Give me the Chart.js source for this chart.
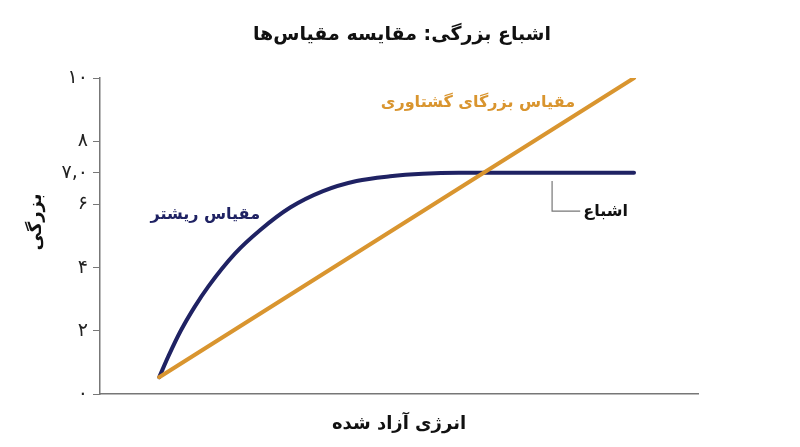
<!DOCTYPE html>
<html lang="fa">
<head>
<meta charset="utf-8">
<script src="https://cdn.jsdelivr.net/npm/chart.js@4.4.1/dist/chart.umd.min.js"></script>
<style>
  html, body { margin: 0; padding: 0; background: #fff; }
  #wrap { width: 800px; height: 447px; }
</style>
</head>
<body>
<div id="wrap"><canvas id="chart" width="800" height="447"></canvas></div>
<script>
// داده‌ها
const richterEnergy = [9.9, 11.5, 13.5, 15.8, 18.1, 22.6, 26.8, 31.8, 37.3, 42.9, 48.5, 54.0, 60.0, 89.3];
const richterMag = [0.53, 1.22, 2.0, 2.75, 3.40, 4.45, 5.19, 5.90, 6.42, 6.74, 6.89, 6.97, 7.0, 7.0];
const momentEnergy = [9.9, 89.3];
const momentMag = [0.53, 10];
const yTickValues = [0, 2, 4, 6, 7, 8, 10];
const yTickLabels = ['۰', '۲', '۴', '۶', '۷,۰', '۸', '۱۰'];

const chartTitle = 'اشباع بزرگی: مقایسه مقیاس‌ها';
const xTitle = 'انرژی آزاد شده';
const yTitle = 'بزرگی';
const richterName = 'مقیاس ریشتر';
const momentName = 'مقیاس بزرگای گشتاوری';
const saturationName = 'اشباع';

const NAVY = '#1f2263';
const ORANGE = '#d9952f';
const FONT = '"DejaVu Sans", sans-serif';

function toPoints(xs, ys) {
    return xs.map(function(x, i) { return {x: x, y: ys[i]}; });
}

// متن‌ها و برچسب‌های روی نمودار
const labelsPlugin = {
    id: 'labelsPlugin',
    afterDraw: function(chart) {
        const ctx = chart.ctx;
        const xs = chart.scales.x, ys = chart.scales.y;
        ctx.save();
        ctx.direction = 'rtl';
        ctx.textBaseline = 'middle';

        // عنوان
        ctx.fillStyle = '#111';
        ctx.font = 'bold 19px ' + FONT;
        ctx.textAlign = 'center';
        ctx.fillText(chartTitle, 402, 35);

        // عنوان محور y
        ctx.save();
        ctx.translate(36, 222);
        ctx.rotate(-Math.PI / 2);
        ctx.font = 'bold 18px ' + FONT;
        ctx.fillText(yTitle, 0, 0);
        ctx.restore();

        // نام سری‌ها
        ctx.font = 'bold 16px ' + FONT;
        ctx.fillStyle = NAVY;
        ctx.fillText(richterName, xs.getPixelForValue(17.6), ys.getPixelForValue(5.66));
        ctx.fillStyle = ORANGE;
        ctx.fillText(momentName, xs.getPixelForValue(63.2), ys.getPixelForValue(9.2));

        // اشباع
        ctx.fillStyle = '#111';
        ctx.textAlign = 'right';
        ctx.fillText(saturationName, xs.getPixelForValue(88.3), ys.getPixelForValue(5.76));

        ctx.strokeStyle = '#777';
        ctx.lineWidth = 1.2;
        ctx.beginPath();
        ctx.moveTo(xs.getPixelForValue(75.6), ys.getPixelForValue(6.74));
        ctx.lineTo(xs.getPixelForValue(75.6), ys.getPixelForValue(5.79));
        ctx.lineTo(xs.getPixelForValue(80.3), ys.getPixelForValue(5.79));
        ctx.stroke();
        ctx.restore();
    }
};

const ctx = document.getElementById('chart').getContext('2d');
const chart = new Chart(ctx, {
    type: 'line',
    data: {
        datasets: [{
            label: momentName,
            data: toPoints(momentEnergy, momentMag),
            borderColor: ORANGE,
            borderWidth: 4,
            borderCapStyle: 'round',
            pointRadius: 0,
            tension: 0
        }, {
            label: richterName,
            data: toPoints(richterEnergy, richterMag),
            borderColor: NAVY,
            borderWidth: 4,
            borderCapStyle: 'round',
            borderJoinStyle: 'round',
            pointRadius: 0,
            cubicInterpolationMode: 'monotone'
        }]
    },
    options: {
        responsive: false,
        animation: false,
        layout: { padding: { top: 78, right: 102, left: 0, bottom: 0 } },
        plugins: {
            legend: { display: false },
            tooltip: { enabled: false },
            title: { display: false }
        },
        scales: {
            x: {
                type: 'linear',
                min: 0,
                max: 100,
                afterFit: function(s) { s.height = 53; },
                grid: { drawOnChartArea: false, drawTicks: false },
                border: { color: '#777', width: 1.5 },
                ticks: { display: false },
                title: {
                    display: true,
                    text: xTitle,
                    color: '#111',
                    font: { family: FONT, size: 18, weight: 'bold' },
                    padding: { top: 4, bottom: 12 }
                }
            },
            y: {
                min: 0,
                max: 10,
                afterFit: function(s) { s.width = 100; },
                afterBuildTicks: function(s) {
                    s.ticks = yTickValues.map(function(v) { return {value: v}; });
                },
                grid: { drawOnChartArea: false, drawTicks: true, tickLength: 7, color: '#777' },
                border: { color: '#777', width: 1.5 },
                ticks: {
                    color: '#222',
                    padding: 5,
                    font: { family: FONT, size: 19 },
                    callback: function(v) { return yTickLabels[yTickValues.indexOf(v)]; }
                }
            }
        }
    },
    plugins: [labelsPlugin]
});
</script>
</body>
</html>
